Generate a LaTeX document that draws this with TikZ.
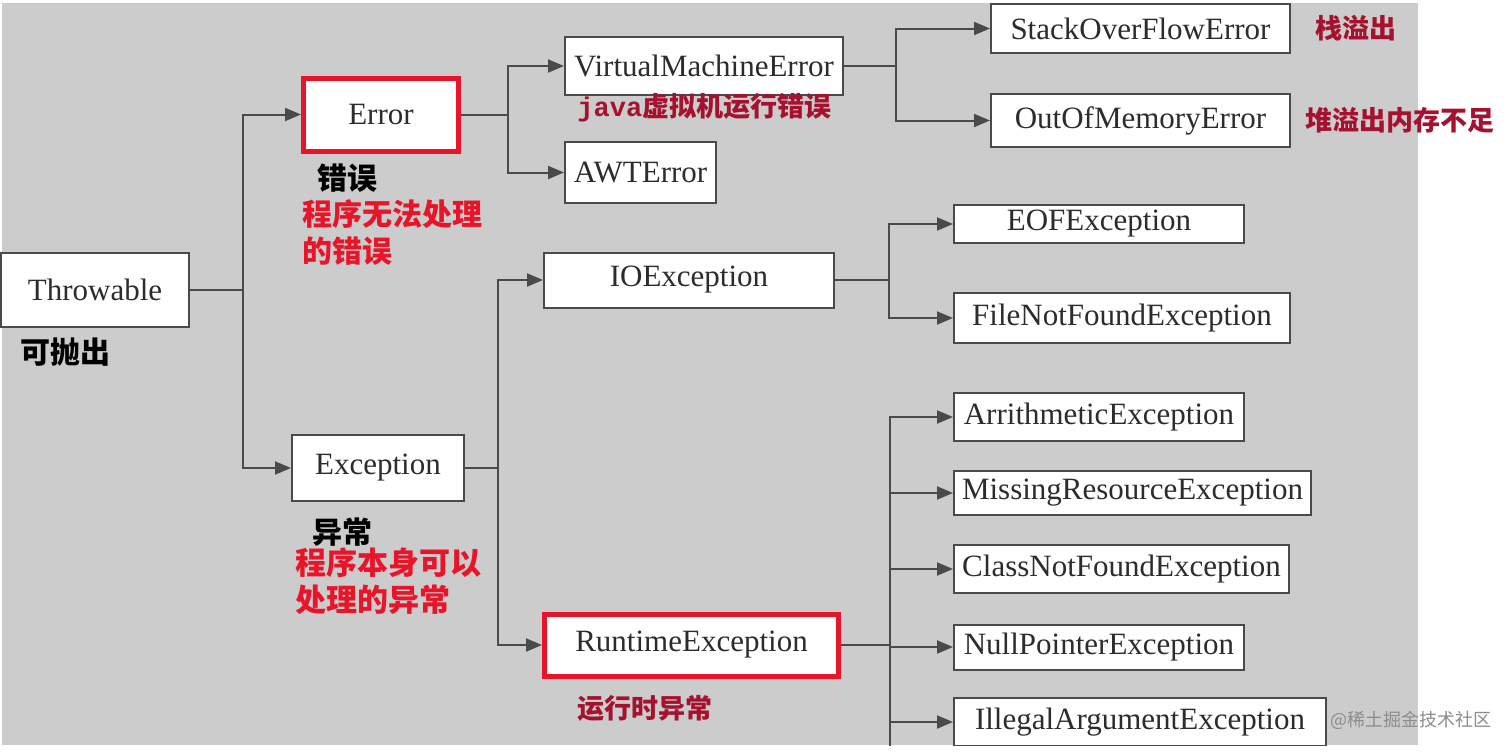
\documentclass[tikz,border=0pt]{standalone}
\usepackage{fontspec}
\setmainfont{Liberation Serif}
\newfontfamily\cjk{Noto Sans CJK SC}
\newfontfamily\monof{Liberation Mono}
\usepackage{tikz}
\usetikzlibrary{positioning,arrows.meta,calc}
\definecolor{bggrey}{HTML}{CCCCCC}
\definecolor{ink}{HTML}{2C2C2C}
\definecolor{edge}{HTML}{4A4A4A}
\definecolor{hot}{HTML}{E8152A}
\definecolor{wine}{HTML}{A5112E}
\definecolor{wmark}{HTML}{8C8C8C}
\tikzset{
  cls/.style={draw=edge, fill=white, line width=1pt, anchor=west, inner sep=0pt,
              font=\fontsize{15.5}{18}\selectfont, text=ink},
  hotcls/.style={cls, draw=hot, line width=2.5pt},
  ar/.style={-{Triangle[length=8pt,width=6.5pt]}, line width=1pt, color=edge},
  ln/.style={line width=1pt, color=edge},
  zh/.style={font=\cjk\bfseries\fontsize{15}{18.5}\selectfont, inner sep=0pt,
             anchor=west, align=left},
  zhhot/.style={zh, text=hot},
  zhwine/.style={zh, text=wine, font=\cjk\bfseries\fontsize{13.5}{16}\selectfont},
}

\begin{document}
\begin{tikzpicture}[x=0.5pt, y=-0.5pt]
\useasboundingbox (0,0) rectangle (1512,751);
\fill[bggrey] (2,3) rectangle (1418,745);

\begin{scope}
\clip (-5,-5) rectangle (1520,745);

% boxes: left edge and vertical centre in pixels
\node[cls, minimum width=188pt/2, minimum height=74pt/2] (thr) at (0,290) {Throwable};
\node[hotcls, minimum width=155pt/2, minimum height=73pt/2] (err) at (301,114.5) {Error};
\node[cls, minimum width=172pt/2, minimum height=66pt/2] (exc) at (291,468) {Exception};

\node[cls, minimum width=278pt/2, minimum height=58pt/2] (vme) at (564,66) {VirtualMachineError};
\node[cls, minimum width=151pt/2, minimum height=61pt/2] (awt) at (564,172.5) {AWTError};
\node[cls, minimum width=299pt/2, minimum height=49pt/2] (sof) at (990,28.5) {StackOverFlowError};
\node[cls, minimum width=299pt/2, minimum height=53pt/2] (oom) at (990,120.5) {OutOfMemoryError};

\node[cls, minimum width=290pt/2, minimum height=55pt/2] (ioe) at (543,280) {IOException};
\node[cls, minimum width=290pt/2, minimum height=38pt/2] (eof) at (953,224) {EOFException};
\node[cls, minimum width=336pt/2, minimum height=50pt/2] (fnf) at (953,318) {FileNotFoundException};

\node[hotcls, minimum width=294pt/2, minimum height=62pt/2] (rte) at (542,645) {RuntimeException};
\node[cls, minimum width=290pt/2, minimum height=48pt/2] (ari) at (953,417) {ArrithmeticException};
\node[cls, minimum width=357pt/2, minimum height=44pt/2] (mis) at (953,493) {MissingResourceException};
\node[cls, minimum width=335pt/2, minimum height=48pt/2] (cnf) at (953,569) {ClassNotFoundException};
\node[cls, minimum width=290pt/2, minimum height=45pt/2] (npe) at (953,647) {NullPointerException};
\node[cls, minimum width=372pt/2, minimum height=48pt/2] (iae) at (953,722) {IllegalArgumentException};

% branch points
\coordinate (jthr) at (243,290);
\coordinate (jerr) at (508,114.5);
\coordinate (jvme) at (896,66);
\coordinate (jexc) at (498,468);
\coordinate (jioe) at (889,280);
\coordinate (jrte) at (890,645);
\coordinate (jend) at (890,760);

\draw[ln] (thr.east) -- (jthr);
\draw[ar] (jthr) |- (err);
\draw[ar] (jthr) |- (exc);
\draw[ln] (err.east) -- (jerr);
\foreach \n in {vme,awt}
  \draw[ar] (jerr) |- (\n);
\draw[ln] (vme.east) -- (jvme);
\foreach \n in {sof,oom}
  \draw[ar] (jvme) |- (\n);
\draw[ln] (exc.east) -- (jexc);
\foreach \n in {ioe,rte}
  \draw[ar] (jexc) |- (\n);
\draw[ln] (ioe.east) -- (jioe);
\foreach \n in {eof,fnf}
  \draw[ar] (jioe) |- (\n);
\draw[ln] (rte.east) -- (jrte);
\draw[ln] (jrte) -- (jend);
\foreach \n in {ari,mis,cnf,npe,iae}
  \draw[ar] (jrte) |- (\n);
\end{scope}

% notes
\node[zh] (thrzh) at (20,352) {可抛出};
\node[zh] (errzh) at (317,178) {错误};
\node[zhhot] (errnote) at (302,232.5) {程序无法处理\\的错误};
\node[zh] (exczh) at (312,532) {异常};
\node[zhhot, font=\cjk\bfseries\fontsize{15.5}{18.5}\selectfont] (excnote) at (295,581.5) {程序本身可以\\处理的异常};
\node[zhwine] (vmezh) at (577,108) {{\monof java}虚拟机运行错误};
\node[zhwine, right=12pt of sof] (sofzh) {栈溢出};
\node[zhwine, right=7pt of oom] (oomzh) {堆溢出内存不足};
\node[zhwine] (rtezh) at (577,708) {运行时异常};
\node[inner sep=0pt, anchor=west, text=wmark, font=\cjk\fontsize{9}{10}\selectfont] (wm) at (1330,720) {@稀土掘金技术社区};
\end{tikzpicture}
\end{document}
